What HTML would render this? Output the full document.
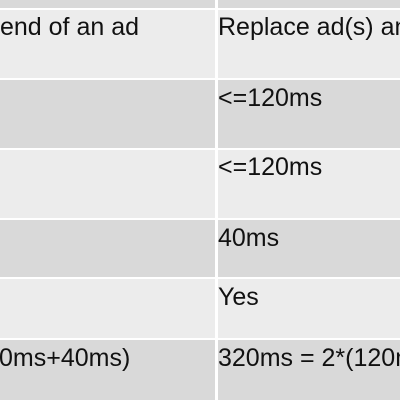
<!DOCTYPE html>
<html><head><style>
html,body{margin:0;padding:0;background:#fff;}
body{width:400px;height:400px;overflow:hidden;position:relative;font-family:"Liberation Sans",sans-serif;font-size:25px;color:#111;}
.c{position:absolute;overflow:hidden;}
.l{background:#ececec}.d{background:#d9d9d9}
.t{position:absolute;white-space:nowrap;line-height:28px;}
</style></head><body>
<div class="c d" style="left:0;top:0;width:215px;height:8px"></div>
<div class="c d" style="left:218px;top:0;width:182px;height:8px"></div>

<div class="c l" style="left:0;top:10px;width:215px;height:68px"><div class="t" style="left:0;top:3px">end of an ad</div></div>
<div class="c l" style="left:218px;top:10px;width:182px;height:68px"><div class="t" style="left:0;top:3px">Replace ad(s) and</div></div>

<div class="c d" style="left:0;top:80px;width:215px;height:68px"></div>
<div class="c d" style="left:218px;top:80px;width:182px;height:68px"><div class="t" style="left:0;top:4px">&lt;=120ms</div></div>

<div class="c l" style="left:0;top:150px;width:215px;height:68px"></div>
<div class="c l" style="left:218px;top:150px;width:182px;height:68px"><div class="t" style="left:0;top:3px">&lt;=120ms</div></div>

<div class="c d" style="left:0;top:220px;width:215px;height:57px"></div>
<div class="c d" style="left:218px;top:220px;width:182px;height:57px"><div class="t" style="left:0;top:4px">40ms</div></div>

<div class="c l" style="left:0;top:279px;width:215px;height:59px"></div>
<div class="c l" style="left:218px;top:279px;width:182px;height:59px"><div class="t" style="left:0;top:4px">Yes</div></div>

<div class="c d" style="left:0;top:340px;width:215px;height:60px"><div class="t" style="left:-1px;top:4px">0ms+40ms)</div></div>
<div class="c d" style="left:218px;top:340px;width:182px;height:60px"><div class="t" style="left:0;top:4px">320ms = 2*(120ms+40ms)</div></div>
</body></html>
